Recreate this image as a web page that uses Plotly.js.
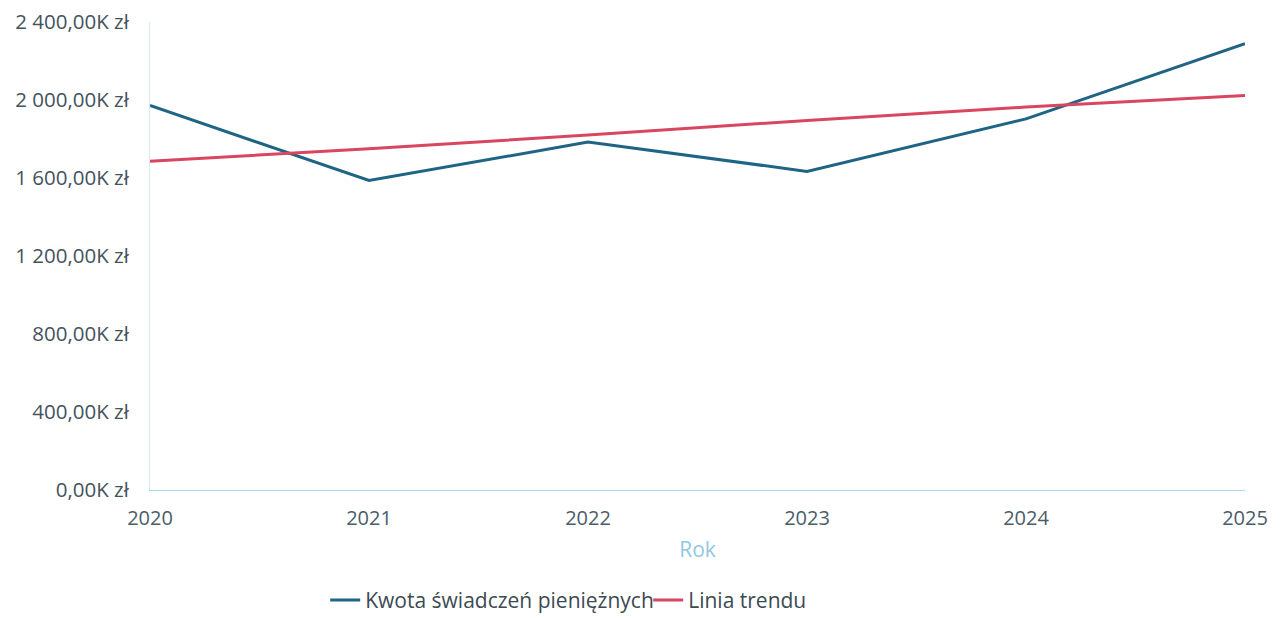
<!DOCTYPE html>
<html>
<head>
<meta charset="utf-8">
<script src="https://cdn.plot.ly/plotly-3.0.1.min.js"></script>
<style>
html,body{margin:0;padding:0;background:#fff;}
#chart{width:1283px;height:618px;}
</style>
</head>
<body>
<div id="chart"></div>
<script>
const years = [2020, 2021, 2022, 2023, 2024, 2025];
const amountK = [1972, 1587, 1784, 1634, 1903, 2289];
const trendK = [1686, 1750, 1820, 1895, 1964, 2023];
const yTickVals = [0, 400, 800, 1200, 1600, 2000, 2400];
const yTickText = ["0,00K zł", "400,00K zł", "800,00K zł", "1 200,00K zł", "1 600,00K zł", "2 000,00K zł", "2 400,00K zł"];
const seriesNames = ["Kwota świadczeń pieniężnych", "Linia trendu"];

const font = "'Open Sans', 'Noto Sans', sans-serif";

const data = [
  {x: years, y: amountK, name: seriesNames[0], type: 'scatter', mode: 'lines',
   line: {color: '#1f6485', width: 3}},
  {x: years, y: trendK, name: seriesNames[1], type: 'scatter', mode: 'lines',
   line: {color: '#d9465f', width: 3}}
];

const layout = {
  width: 1283, height: 618,
  margin: {l: 150, r: 38, t: 22, b: 128, autoexpand: false},
  paper_bgcolor: '#fff', plot_bgcolor: '#fff',
  font: {family: font, color: '#44535c'},
  showlegend: true,
  legend: {orientation: 'h', x: 0.16, xanchor: 'left', y: -0.192, yanchor: 'top',
           font: {size: 21, color: '#3c4a52'}, entrywidthmode: 'pixels', entrywidth: 278,
           tracegroupgap: 0},
  xaxis: {
    range: [2020, 2025], tickvals: years, ticktext: years.map(String),
    showgrid: false, zeroline: false, showline: true, linecolor: '#a8d8ee', linewidth: 1,
    ticks: 'outside', ticklen: 10, tickcolor: 'rgba(0,0,0,0)',
    tickfont: {size: 20, color: '#4a5d68'},
    title: {text: 'Rok', font: {size: 21, color: '#8fc8e2'}, standoff: 12}
  },
  yaxis: {
    range: [0, 2400], tickvals: yTickVals, ticktext: yTickText,
    showgrid: false, zeroline: false, showline: true, linecolor: '#d4ecf7', linewidth: 1,
    ticks: 'outside', ticklen: 16, tickcolor: 'rgba(0,0,0,0)',
    tickfont: {size: 20.5, color: '#44535c'}
  }
};

Plotly.newPlot('chart', data, layout, {displayModeBar: false, staticPlot: true});
</script>
</body>
</html>
